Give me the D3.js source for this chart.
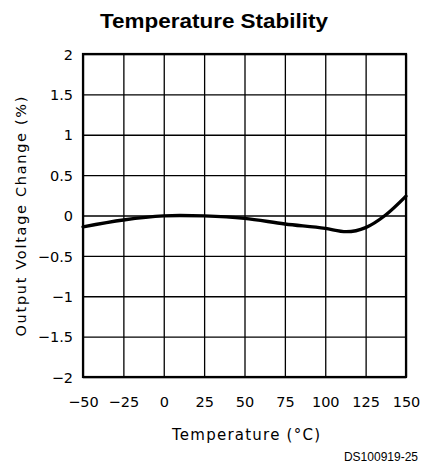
<!DOCTYPE html>
<html><head><meta charset="utf-8">
<script src="https://cdn.jsdelivr.net/npm/d3@7"></script>
<style>body{margin:0;background:#fff}</style>
</head><body>
<svg id="c" width="422" height="464"></svg>
<script>
const temps = [-50, -25, 0, 10, 25, 50, 75, 100, 113, 125, 137, 150];
const changes = [-0.14, -0.055, -0.005, 0, -0.005, -0.035, -0.105, -0.16, -0.2, -0.15, 0, 0.24];
const xTicks = [-50, -25, 0, 25, 50, 75, 100, 125, 150];
const yTicks = [-2, -1.5, -1, -0.5, 0, 0.5, 1, 1.5, 2];

const svg = d3.select("#c");
const L = 83, R = 406, T = 54, B = 377;
const x = d3.scaleLinear().domain([-50, 150]).range([L, R]);
const y = d3.scaleLinear().domain([-2, 2]).range([B, T]);
const tickFont = "DejaVu Sans";

svg.append("text").attr("x", 214).attr("y", 28).attr("text-anchor", "middle")
  .attr("font-family", "Liberation Sans, Arial").attr("font-weight", "bold")
  .attr("font-size", 20).attr("textLength", 228).attr("lengthAdjust", "spacingAndGlyphs")
  .text("Temperature Stability");

const fmt = d => d < 0 ? "\u2212" + Math.abs(d) : d;
const gx = svg.append("g").attr("transform", `translate(0,${B})`)
  .call(d3.axisBottom(x).tickValues(xTicks).tickSize(-(B - T)).tickFormat(fmt).tickPadding(20));
const gy = svg.append("g").attr("transform", `translate(${L},0)`)
  .call(d3.axisLeft(y).tickValues(yTicks).tickSize(-(R - L)).tickFormat(fmt).tickPadding(10));
[gx, gy].forEach(g => {
  g.select(".domain").remove();
  g.selectAll(".tick line").attr("stroke", "#000").attr("stroke-width", 1.3);
  g.selectAll(".tick text").attr("fill", "#000").attr("font-family", tickFont).attr("font-size", 14.5);
});
gx.selectAll(".tick text").attr("dy", "0.71em");
gy.selectAll(".tick text").attr("dy", "0.36em");

svg.append("rect").attr("x", L).attr("y", T).attr("width", R - L).attr("height", B - T)
  .attr("fill", "none").attr("stroke", "#000").attr("stroke-width", 2.2);

const line = d3.line().x((d, i) => x(temps[i])).y(d => y(d)).curve(d3.curveMonotoneX);
svg.append("path").datum(changes).attr("d", line).attr("fill", "none")
  .attr("stroke", "#000").attr("stroke-width", 3.4).attr("stroke-linecap", "round");

svg.append("text").attr("transform", `translate(26,${(T + B) / 2 + 1}) rotate(-90)`)
  .attr("text-anchor", "middle").attr("font-family", tickFont).attr("font-size", 14.5)
  .attr("textLength", 240).attr("lengthAdjust", "spacing")
  .text("Output Voltage Change (%)");
svg.append("text").attr("x", 246).attr("y", 440).attr("text-anchor", "middle")
  .attr("font-family", tickFont).attr("font-size", 15)
  .attr("textLength", 148).attr("lengthAdjust", "spacing")
  .text("Temperature (\u00B0C)");
svg.append("text").attr("x", 418).attr("y", 461).attr("text-anchor", "end")
  .attr("font-family", "Liberation Sans, Arial").attr("font-size", 12).text("DS100919-25");
</script>
</body></html>
